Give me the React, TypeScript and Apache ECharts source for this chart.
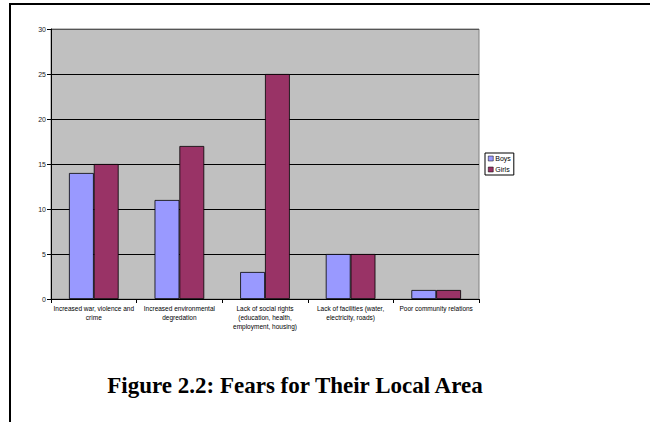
import React, { useEffect, useRef } from "react";
import * as echarts from "echarts";

// Categories of fears, wrapped the way they appear under the axis
const categories: string[] = [
  "Increased war, violence and\ncrime",
  "Increased environmental\ndegredation",
  "Lack of social rights\n(education, health,\nemployment, housing)",
  "Lack of facilities (water,\nelectricity, roads)",
  "Poor community relations",
];

const boys: number[] = [14, 11, 3, 5, 1];
const girls: number[] = [15, 17, 25, 5, 1];

const yTicks: number[] = [0, 5, 10, 15, 20, 25, 30];

const SANS = "'Liberation Sans', Arial, sans-serif";
const SERIF = "'Liberation Serif', 'Times New Roman', serif";

export default function App() {
  const ref = useRef<HTMLDivElement>(null);

  useEffect(() => {
    if (!ref.current) return;
    const chart = echarts.init(ref.current, undefined, { renderer: "svg" });
    const gridLineColors = yTicks.map((v) => (v === 30 ? "#555555" : "#000000"));
    chart.setOption({
      animation: false,
      backgroundColor: "#ffffff",
      textStyle: { fontFamily: SANS },
      grid: {
        left: 51,
        top: 29,
        width: 428,
        height: 270,
        show: true,
        backgroundColor: "#c0c0c0",
        borderColor: "#808080",
        borderWidth: 1,
      },
      legend: {
        orient: "vertical",
        left: 485,
        top: 153,
        padding: [2, 3, 2, 3],
        itemWidth: 5,
        itemHeight: 5,
        itemGap: 4,
        borderColor: "#000000",
        borderWidth: 1,
        icon: "rect",
        itemStyle: { borderColor: "#000", borderWidth: 0.5 },
        textStyle: { fontFamily: SANS, fontSize: 7, color: "#000", padding: [0, 0, 0, -3] },
        data: ["Boys", "Girls"],
      },
      xAxis: {
        type: "category",
        data: categories,
        axisLine: { lineStyle: { color: "#000", width: 1 } },
        axisTick: { show: true, length: 4, lineStyle: { color: "#000" }, interval: 0 },
        axisLabel: {
          interval: 0,
          fontFamily: SANS,
          fontSize: 6.5,
          lineHeight: 9,
          color: "#000",
          margin: 5,
        },
      },
      yAxis: {
        type: "value",
        min: 0,
        max: 30,
        interval: 5,
        axisLine: { show: true, lineStyle: { color: "#000", width: 1 } },
        axisTick: { show: true, length: 4, lineStyle: { color: "#000" } },
        axisLabel: { fontFamily: SANS, fontSize: 7, color: "#222", margin: 5 },
        splitLine: { show: true, lineStyle: { color: gridLineColors, width: 1 } },
      },
      series: [
        {
          name: "Boys",
          type: "bar",
          data: boys,
          barGap: "0%",
          barCategoryGap: "42%",
          itemStyle: { color: "#9999ff", borderColor: "#000", borderWidth: 0.8 },
        },
        {
          name: "Girls",
          type: "bar",
          data: girls,
          barGap: "0%",
          barCategoryGap: "42%",
          itemStyle: { color: "#993366", borderColor: "#000", borderWidth: 0.8 },
        },
      ],
      graphic: [
        { type: "rect", shape: { x: 9, y: 3, width: 641, height: 2 }, style: { fill: "#000" }, silent: true },
        { type: "rect", shape: { x: 9, y: 3, width: 2, height: 419 }, style: { fill: "#000" }, silent: true },
        {
          type: "text",
          x: 295,
          y: 385,
          style: {
            text: "Figure 2.2: Fears for Their Local Area",
            fontFamily: SERIF,
            fontWeight: "bold",
            fontSize: 23,
            fill: "#000",
            align: "center",
            verticalAlign: "middle",
          },
        },
      ],
    });
    return () => chart.dispose();
  }, []);

  return (
    <div
      ref={ref}
      style={{ position: "absolute", left: 0, top: 0, width: 650, height: 422 }}
    />
  );
}
